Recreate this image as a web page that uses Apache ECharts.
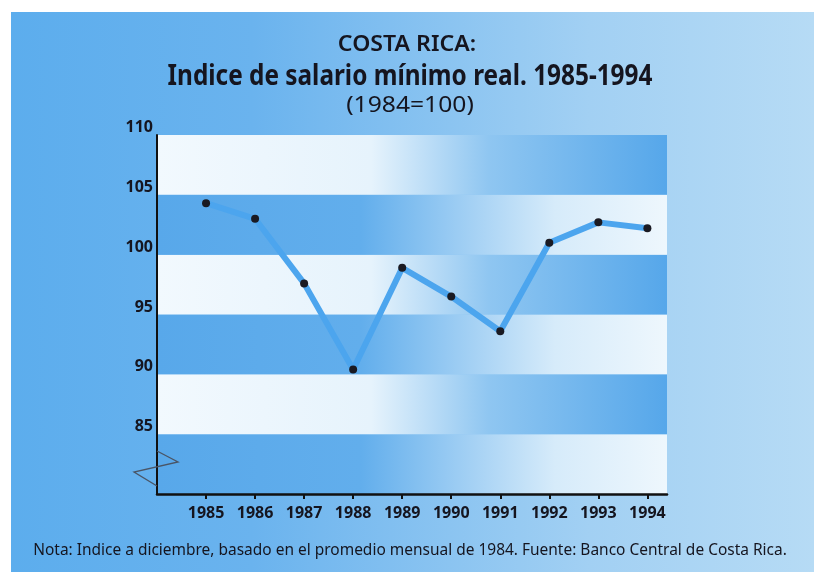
<!DOCTYPE html>
<html>
<head>
<meta charset="utf-8">
<title>Costa Rica: Indice de salario mínimo real</title>
<script src="https://cdn.jsdelivr.net/npm/echarts@6/dist/echarts.min.js"></script>
<style>
  html, body { margin: 0; padding: 0; background: #ffffff; }
  #wrap { position: relative; width: 814px; height: 572px; overflow: hidden; }
  #bg {
    position: absolute; left: 11px; top: 12px; right: 0; bottom: 0;
    background: linear-gradient(90deg, #5caded 0%, #6ab3ee 30%, #a2d0f3 72%, #b6dbf5 100%);
  }
  #main { position: absolute; left: 0; top: 0; width: 814px; height: 572px; }
</style>
</head>
<body>
<div id="wrap">
  <div id="bg"></div>
  <div id="main"></div>
</div>
<script>
  // datos
  var years = [1985, 1986, 1987, 1988, 1989, 1990, 1991, 1992, 1993, 1994];
  var salario = [104.3, 103.0, 97.6, 90.4, 98.9, 96.5, 93.6, 101.0, 102.7, 102.2];
  var yTicks = [80, 85, 90, 95, 100, 105, 110];

  var titulo = 'COSTA RICA:';
  var subtitulo = 'Indice de salario mínimo real. 1985-1994';
  var base = '(1984=100)';
  var nota = 'Nota: Indice a diciembre, basado en el promedio mensual de 1984. Fuente: Banco Central de Costa Rica.';

  var sans = '"Noto Sans", "DejaVu Sans", sans-serif';
  var ink = '#15151f';

  // franjas: azul->blanco y blanco->azul alternadas
  var bandaAzul = new echarts.graphic.LinearGradient(0, 0, 1, 0, [
    { offset: 0, color: '#58a8ea' },
    { offset: 0.4, color: '#62aeec' },
    { offset: 0.78, color: '#d6ebfa' },
    { offset: 1, color: '#eef7fd' }
  ]);
  var bandaBlanca = new echarts.graphic.LinearGradient(0, 0, 1, 0, [
    { offset: 0, color: '#f2f9fe' },
    { offset: 0.42, color: '#e6f3fc' },
    { offset: 0.65, color: '#8fc6f1' },
    { offset: 1, color: '#56a7ea' }
  ]);

  // texto centrado, estirado/comprimido en horizontal
  function texto(str, x, y, size, weight, sx) {
    return {
      type: 'text',
      x: x, y: y,
      scaleX: sx,
      z: 100,
      style: {
        text: str,
        x: 0, y: 0,
        align: 'center',
        verticalAlign: 'middle',
        font: weight + ' ' + size + 'px ' + sans,
        fill: ink
      }
    };
  }

  var chart = echarts.init(document.getElementById('main'), null, { renderer: 'canvas' });
  var option = {
    backgroundColor: 'transparent',
    animation: false,
    grid: { left: 157, right: 147, top: 135, bottom: 78, containLabel: false },
    xAxis: {
      type: 'value',
      min: 1984,
      max: 1994.4,
      interval: 1,
      splitLine: { show: false },
      axisLine: { show: true, lineStyle: { color: '#111', width: 2.5 } },
      axisTick: { show: true, customValues: years, length: 5, lineStyle: { color: '#111', width: 2 } },
      axisLabel: {
        customValues: years,
        margin: 11,
        fontFamily: sans, fontWeight: 'bold', fontSize: 16, color: ink,
        formatter: function (v) { return String(v); }
      }
    },
    yAxis: {
      type: 'value',
      min: yTicks[0],
      max: yTicks[yTicks.length - 1],
      interval: 5,
      axisLine: { show: true, lineStyle: { color: '#111', width: 2 } },
      axisTick: { show: false },
      splitLine: { show: false },
      splitArea: { show: true, areaStyle: { color: [bandaAzul, bandaBlanca] } },
      axisLabel: {
        showMinLabel: false,
        margin: 4,
        verticalAlign: 'bottom',
        lineHeight: 15,
        fontFamily: sans, fontWeight: 'bold', fontSize: 16, color: ink
      }
    },
    graphic: [
      texto(titulo, 407, 45, 21, '600', 1.1),
      texto(subtitulo, 410, 77, 29, 'bold', 0.84),
      texto(base, 410, 106, 22, 'normal', 1.12),
      texto(nota, 410, 550, 17, 'normal', 0.91),
      {
        type: 'polyline',
        shape: { points: [[157, 451], [178, 462], [134, 472], [157, 486]] },
        style: { stroke: '#4a5566', lineWidth: 1.3, fill: null },
        z: 100
      }
    ],
    series: [{
      type: 'line',
      data: years.map(function (y, i) { return [y, salario[i]]; }),
      lineStyle: { color: '#4ca5ee', width: 6 },
      symbol: 'circle',
      symbolSize: 8,
      itemStyle: { color: '#1a1a22' },
      z: 5
    }]
  };
  chart.setOption(option);
</script>
</body>
</html>
